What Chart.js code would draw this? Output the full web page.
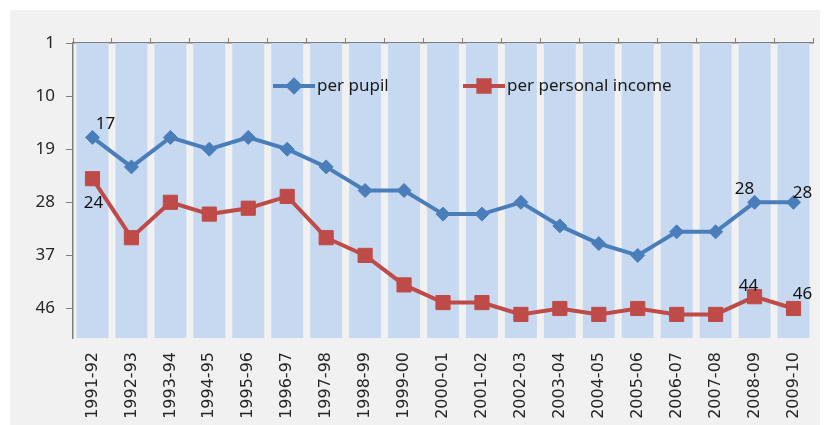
<!DOCTYPE html>
<html>
<head>
<meta charset="utf-8">
<title>Rank chart</title>
<script src="https://cdn.jsdelivr.net/npm/chart.js@4.4.1/dist/chart.umd.min.js"></script>
<style>
  html, body { margin: 0; padding: 0; background: #ffffff; }
  #panel { position: absolute; left: 10px; top: 10px; width: 810px; height: 415px; background: #f1f1f1; }
  #wrap { position: absolute; left: 0; top: 0; width: 833px; height: 425px; }
</style>
</head>
<body>
<div id="panel"></div>
<div id="wrap"><canvas id="rankChart"></canvas></div>
<script>
// ==============================
// Datos
// ==============================
const years = ['1991-92', '1992-93', '1993-94', '1994-95', '1995-96', '1996-97', '1997-98',
  '1998-99', '1999-00', '2000-01', '2001-02', '2002-03', '2003-04', '2004-05', '2005-06',
  '2006-07', '2007-08', '2008-09', '2009-10'];
const perPupil = [17, 22, 17, 19, 17, 19, 22, 26, 26, 30, 30, 28, 32, 35, 37, 33, 33, 28, 28];
const perIncome = [24, 34, 28, 30, 29, 27, 34, 37, 42, 45, 45, 47, 46, 47, 46, 47, 47, 44, 46];
const rankTicks = [1, 10, 19, 28, 37, 46];
const rankTop = 1;
const rankBottom = 51;
// columnas de fondo, llegan hasta el fondo del eje
const backdrop = [51, 51, 51, 51, 51, 51, 51, 51, 51, 51, 51, 51, 51, 51, 51, 51, 51, 51, 51];

const BLUE = '#4a7ebb';
const RED = '#be4b48';
const AXIS = '#7f7f7f';
const INK = '#262626';

// etiquetas de valor: [dataset, punto, dx, dy]
const valueLabels = [
  [1, 0, 13, -13],
  [2, 0, 1, 24],
  [1, 17, -10, -13],
  [1, 18, 9, -9],
  [2, 17, -6, -11],
  [2, 18, 9, -14]
];

// leyenda dentro del area: [dataset, x, y]
const legendSpots = [
  [1, 273, 86],
  [2, 463, 86]
];

// ==============================
// Plugins propios
// ==============================
const valueLabelPlugin = {
  id: 'valueLabels',
  afterDatasetsDraw(chart) {
    const ctx = chart.ctx;
    ctx.save();
    ctx.font = '17px "Noto Sans"';
    ctx.fillStyle = '#111111';
    ctx.textAlign = 'center';
    ctx.textBaseline = 'middle';
    valueLabels.forEach(([ds, i, dx, dy]) => {
      const pt = chart.getDatasetMeta(ds).data[i];
      const val = chart.data.datasets[ds].data[i];
      ctx.fillText(String(val), pt.x + dx, pt.y + dy);
    });
    ctx.restore();
  }
};

const insideLegendPlugin = {
  id: 'insideLegend',
  afterDatasetsDraw(chart) {
    const ctx = chart.ctx;
    ctx.save();
    legendSpots.forEach(([ds, x, y]) => {
      const set = chart.data.datasets[ds];
      ctx.strokeStyle = set.borderColor;
      ctx.lineWidth = 4;
      ctx.beginPath();
      ctx.moveTo(x, y);
      ctx.lineTo(x + 42, y);
      ctx.stroke();
      Chart.helpers.drawPoint(ctx, {
        pointStyle: set.pointStyle,
        radius: set.legendRadius,
        borderWidth: 1
      }, x + 21, y);
      ctx.fillStyle = set.borderColor;
      ctx.fill();
      ctx.fillStyle = '#1a1a1a';
      ctx.font = '17px "Noto Sans"';
      ctx.textAlign = 'left';
      ctx.textBaseline = 'middle';
      ctx.fillText(set.label, x + 44, y);
    });
    ctx.restore();
  }
};

// ==============================
// Grafico
// ==============================
document.addEventListener('DOMContentLoaded', () => {
  const ctx = document.getElementById('rankChart');
  new Chart(ctx, {
    type: 'line',
    data: {
      labels: years,
      datasets: [{
        type: 'bar',
        label: 'backdrop',
        data: backdrop,
        backgroundColor: '#c6d9f0',
        barPercentage: 0.82,
        categoryPercentage: 1,
        order: 3
      }, {
        label: 'per pupil',
        data: perPupil,
        borderColor: BLUE,
        backgroundColor: BLUE,
        borderWidth: 4,
        pointStyle: 'rectRot',
        pointRadius: 7,
        legendRadius: 6,
        pointBorderWidth: 1,
        tension: 0,
        order: 1
      }, {
        label: 'per personal income',
        data: perIncome,
        borderColor: RED,
        backgroundColor: RED,
        borderWidth: 4,
        pointStyle: 'rect',
        pointRadius: 10,
        legendRadius: 8,
        pointBorderWidth: 1,
        tension: 0,
        order: 2
      }]
    },
    options: {
      responsive: true,
      maintainAspectRatio: false,
      animation: false,
      layout: { padding: { left: 10, top: 38, right: 20, bottom: 7 } },
      plugins: {
        legend: { display: false },
        tooltip: { enabled: false }
      },
      scales: {
        x: {
          type: 'category',
          position: 'bottom',
          offset: true,
          grid: { display: false, drawTicks: false },
          border: { display: false },
          ticks: {
            autoSkip: false,
            minRotation: 90,
            maxRotation: 90,
            padding: 14,
            color: INK,
            font: { family: 'DejaVu Sans', size: 16 }
          },
          afterFit: s => { s.height = 80; }
        },
        xTop: {
          type: 'category',
          position: 'top',
          labels: years,
          offset: true,
          grid: { offset: true, drawOnChartArea: false, drawTicks: true, tickLength: 5, color: AXIS },
          border: { color: AXIS, width: 1.5 },
          ticks: { display: false },
          afterFit: s => { s.height = 5; }
        },
        y: {
          position: 'left',
          reverse: true,
          min: rankTop,
          max: rankBottom,
          afterBuildTicks: s => { s.ticks = rankTicks.map(v => ({ value: v })); },
          grid: { drawOnChartArea: false, drawTicks: true, tickLength: 7, color: AXIS },
          border: { color: AXIS, width: 1.5 },
          ticks: {
            padding: 11,
            color: INK,
            font: { family: 'Noto Sans', size: 17 }
          },
          afterFit: s => { s.width = 63; }
        }
      }
    },
    plugins: [valueLabelPlugin, insideLegendPlugin]
  });
});
</script>
</body>
</html>
